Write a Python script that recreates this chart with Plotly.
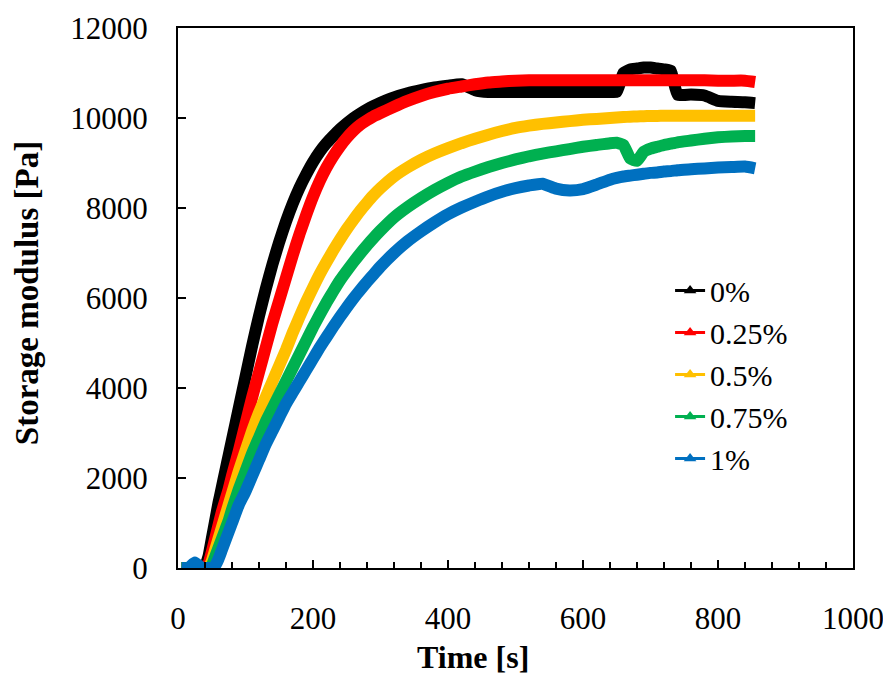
import plotly.graph_objects as go

time_s = [5, 15, 25, 35, 40, 45, 50, 55, 60, 65, 70, 75, 80,
          90, 100, 110, 120, 130, 140, 150, 160, 170, 180, 190, 200,
          210, 220, 230, 240, 250, 260, 270, 280, 290, 300,
          320, 340, 360, 380, 400, 420, 440, 460, 480, 500, 520, 540,
          560, 580, 600, 620, 640,
          650, 660, 670, 680, 690, 700, 710, 720, 730, 740,
          760, 780, 800, 820, 840, 855]

g_0 = [0, 0, 0, 20, 60, 250, 650, 1050, 1450, 1800, 2150, 2500, 2850,
       3550, 4250, 4950, 5600, 6200, 6750, 7250, 7700, 8100, 8450, 8750, 9020,
       9250, 9440, 9600, 9750, 9880, 10000, 10100, 10190, 10270, 10340,
       10460, 10550, 10620, 10680, 10720, 10750, 10620, 10580, 10580, 10580, 10580, 10580,
       10580, 10580, 10580, 10580, 10580,
       10580, 11000, 11080, 11100, 11120, 11120, 11100, 11080, 11050, 10520,
       10520, 10500, 10380, 10360, 10350, 10330]

g_025 = [0, 0, 0, 20, 40, 100, 350, 650, 950, 1250, 1500, 1750, 2050,
         2600, 3200, 3800, 4350, 4900, 5450, 5950, 6450, 6950, 7420, 7850, 8250,
         8600, 8900, 9150, 9370, 9560, 9720, 9850, 9950, 10040, 10110,
         10250, 10380, 10490, 10580, 10650, 10700, 10750, 10790, 10810, 10830, 10840, 10840,
         10840, 10840, 10840, 10840, 10840,
         10840, 10840, 10840, 10840, 10840, 10840, 10840, 10840, 10840, 10840,
         10840, 10840, 10830, 10830, 10830, 10800]

g_05 = [0, 0, 0, 0, 0, 0, 150, 400, 650, 900, 1150, 1400, 1650,
        2150, 2600, 3050, 3450, 3800, 4150, 4500, 4850, 5230, 5580, 5920, 6230,
        6530, 6800, 7060, 7300, 7530, 7740, 7940, 8120, 8290, 8440,
        8700, 8900, 9070, 9210, 9330, 9440, 9540, 9630, 9710, 9780, 9830, 9870,
        9900, 9930, 9960, 9980, 10000,
        10010, 10020, 10030, 10035, 10040, 10045, 10045, 10050, 10050, 10050,
        10050, 10050, 10050, 10050, 10050, 10050]

g_075 = [0, 0, 0, 0, 0, 0, 50, 250, 450, 650, 850, 1050, 1300,
         1750, 2150, 2550, 2900, 3250, 3550, 3850, 4150, 4450, 4750, 5050, 5350,
         5630, 5900, 6150, 6390, 6600, 6800, 6990, 7170, 7340, 7500,
         7790, 8020, 8220, 8400, 8560, 8700, 8810, 8910, 9000, 9080, 9150, 9210,
         9260, 9310, 9360, 9400, 9440,
         9450, 9400, 9100, 9050, 9250, 9320, 9360, 9400, 9430, 9460,
         9500, 9540, 9570, 9590, 9600, 9600]

g_1 = [0, 0, 120, 0, 0, 0, 0, 50, 200, 400, 600, 800, 1000,
       1400, 1700, 2050, 2400, 2750, 3050, 3350, 3650, 3900, 4150, 4400, 4650,
       4900, 5130, 5360, 5580, 5790, 5990, 6180, 6360, 6530, 6700,
       7000, 7260, 7480, 7680, 7860, 8010, 8140, 8260, 8360, 8440, 8500, 8540,
       8430, 8390, 8420, 8520, 8630,
       8670, 8700, 8720, 8740, 8760, 8780, 8790, 8810, 8820, 8840,
       8860, 8880, 8900, 8910, 8920, 8880]

series_names = ["0%", "0.25%", "0.5%", "0.75%", "1%"]
series_values = [g_0, g_025, g_05, g_075, g_1]
series_colors = ["#000000", "#FF0000", "#FFC000", "#00B050", "#0070C0"]

FONT = "Liberation Serif"

fig = go.Figure()
for name, vals, col in zip(series_names, series_values, series_colors):
    fig.add_trace(go.Scatter(
        x=time_s, y=vals, mode="lines", name=name, showlegend=False,
        line=dict(color=col, width=12, shape="spline", smoothing=0.4),
    ))
for name, col in zip(series_names, series_colors):
    fig.add_trace(go.Scatter(
        x=[None], y=[None], mode="lines+markers", name=name,
        line=dict(color=col, width=3),
        marker=dict(symbol="triangle-up", size=11, color=col),
    ))

# the page body adds an 8px offset, so the figure is 8px smaller than the window
fig.update_layout(
    width=883, height=667,
    margin=dict(l=170, r=38, t=20, b=107),
    paper_bgcolor="white", plot_bgcolor="white",
    font=dict(family=FONT, color="black", size=31),
    showlegend=True,
    legend=dict(
        x=0.729, y=0.562, xanchor="left", yanchor="top",
        bgcolor="rgba(0,0,0,0)", borderwidth=0,
        font=dict(family=FONT, size=30, color="black"),
        itemwidth=30,
    ),
    xaxis=dict(
        range=[0, 1000], dtick=200, tick0=0, tickformat="d",
        showgrid=False, zeroline=False, automargin=False,
        showline=True, linecolor="black", linewidth=2, mirror=True,
        ticks="inside", ticklen=8, tickwidth=1.5, tickcolor="black",
        minor=dict(dtick=40, ticks="inside", ticklen=6, tickwidth=1.5, tickcolor="black", showgrid=False),
        tickfont=dict(family=FONT, size=31, color="black"),
        ticklabelstandoff=22,
    ),
    yaxis=dict(
        range=[0, 12000], dtick=2000, tick0=0, tickformat="d",
        showgrid=False, zeroline=False, automargin=False,
        showline=True, linecolor="black", linewidth=2, mirror=True,
        ticks="inside", ticklen=8, tickwidth=1.5, tickcolor="black",
        tickfont=dict(family=FONT, size=31, color="black"),
        ticklabelstandoff=22,
    ),
    annotations=[
        dict(text="<b>Time [s]</b>", xref="paper", yref="paper",
             x=0.437, y=0, xanchor="center", yanchor="middle", yshift=-89,
             showarrow=False, font=dict(family=FONT, size=32, color="black")),
        dict(text="<b>Storage modulus [Pa]</b>", xref="paper", yref="paper",
             x=0, y=0.509, xanchor="center", yanchor="middle", xshift=-151,
             textangle=-90, showarrow=False,
             font=dict(family=FONT, size=33, color="black")),
    ],
)

fig.write_html("out.html")
